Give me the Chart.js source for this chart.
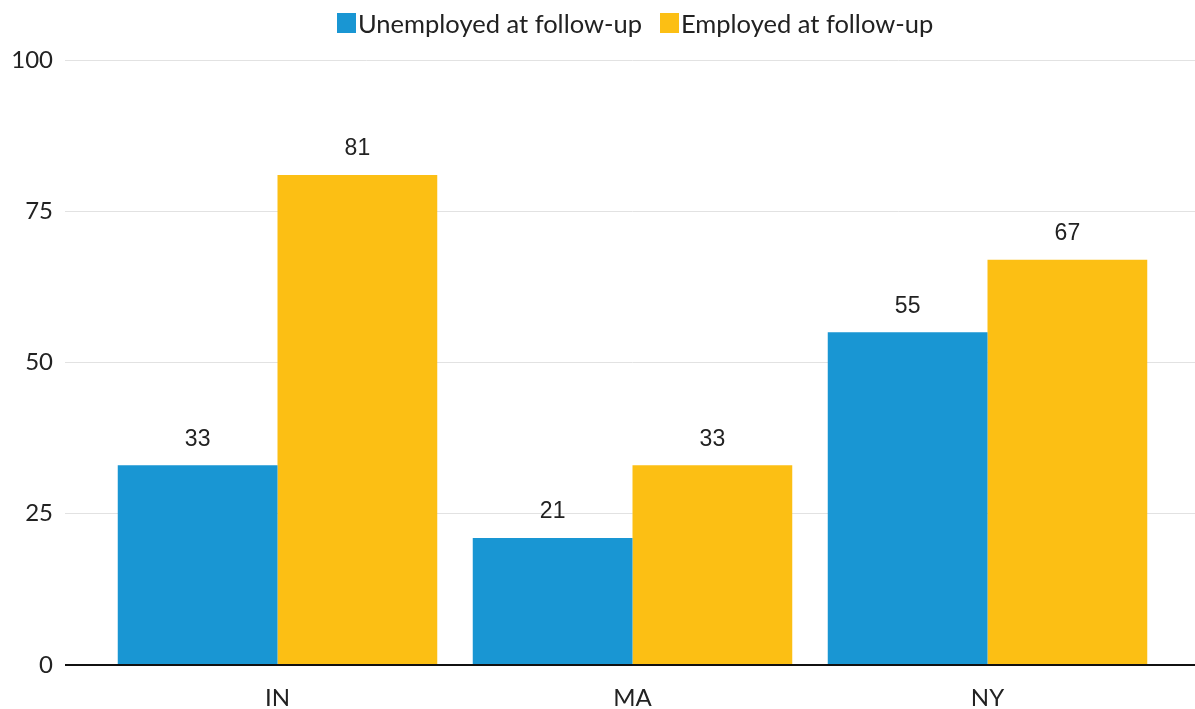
<!DOCTYPE html>
<html>
<head>
<meta charset="utf-8">
<script src="https://cdn.jsdelivr.net/npm/chart.js@4"></script>
<style>
  html, body { margin: 0; padding: 0; background: #fff; }
  #wrap { position: relative; width: 1195px; height: 709px; }
  #legend {
    position: absolute; top: 8px; left: 337px;
    display: flex; gap: 18px; white-space: nowrap;
    font-family: Lato, sans-serif; font-size: 25.5px; color: #222;
  }
  .item { display: flex; align-items: center; }
  .swatch { width: 19px; height: 20px; margin-right: 2px; }
</style>
</head>
<body>
<div id="wrap">
  <canvas id="grafico" width="1195" height="709"></canvas>
  <div id="legend"></div>
</div>
<script>
var estados = ["IN", "MA", "NY"];
var desempregados = [33, 21, 55];
var empregados = [81, 33, 67];
var seriesNomes = ["Unemployed at follow-up", "Employed at follow-up"];
var cores = ["#1996d3", "#fcbf14"];
var ticksY = [0, 25, 50, 75, 100];

// legenda em HTML
var legenda = document.getElementById("legend");
seriesNomes.forEach(function (nome, i) {
    var item = document.createElement("div");
    item.className = "item";
    var sw = document.createElement("span");
    sw.className = "swatch";
    sw.style.background = cores[i];
    var txt = document.createElement("span");
    txt.textContent = nome;
    item.appendChild(sw);
    item.appendChild(txt);
    legenda.appendChild(item);
});

// rótulos com o valor acima de cada barra
var rotulos = {
    id: "rotulos",
    afterDatasetsDraw: function (chart) {
        var ctx = chart.ctx;
        ctx.save();
        ctx.font = "23px 'Liberation Sans', Arial, sans-serif";
        ctx.fillStyle = "#222";
        ctx.textAlign = "center";
        ctx.textBaseline = "middle";
        chart.data.datasets.forEach(function (ds, i) {
            chart.getDatasetMeta(i).data.forEach(function (bar, j) {
                ctx.fillText(ds.data[j], bar.x, bar.y - 26);
            });
        });
        ctx.restore();
    }
};

var corGrade = function (c) {
    return c.tick && c.tick.value === 0 ? "#111" : "#e2e2e2";
};
var larguraGrade = function (c) {
    return c.tick && c.tick.value === 0 ? 2 : 1;
};

new Chart(document.getElementById("grafico").getContext("2d"), {
    type: "bar",
    data: {
        labels: estados,
        datasets: [{
            label: seriesNomes[0],
            data: desempregados,
            backgroundColor: cores[0]
        }, {
            label: seriesNomes[1],
            data: empregados,
            backgroundColor: cores[1]
        }]
    },
    options: {
        responsive: false,
        animation: false,
        layout: { padding: { top: 60, bottom: 0, left: 0, right: 0 } },
        datasets: { bar: { categoryPercentage: 0.9, barPercentage: 1.0 } },
        plugins: { legend: { display: false }, tooltip: { enabled: false } },
        scales: {
            x: {
                grid: { display: false },
                border: { display: false },
                ticks: {
                    padding: 11,
                    color: "#222",
                    font: { family: "Lato", size: 24 }
                },
                afterFit: function (s) { s.height = 44; }
            },
            y: {
                min: 0,
                max: 100,
                afterBuildTicks: function (s) {
                    s.ticks = ticksY.map(function (v) { return { value: v }; });
                },
                border: { display: false },
                grid: {
                    color: corGrade,
                    tickColor: corGrade,
                    lineWidth: larguraGrade,
                    tickLength: 35
                },
                ticks: {
                    padding: 12,
                    color: "#222",
                    font: { family: "Lato", size: 24 }
                },
                afterFit: function (s) { s.width = 100; }
            },
            yDir: {
                position: "right",
                min: 0,
                max: 100,
                afterBuildTicks: function (s) {
                    s.ticks = ticksY.map(function (v) { return { value: v }; });
                },
                border: { display: false },
                grid: {
                    drawOnChartArea: false,
                    tickColor: corGrade,
                    lineWidth: larguraGrade,
                    tickLength: 30
                },
                ticks: { display: false },
                afterFit: function (s) { s.width = 30; }
            }
        }
    },
    plugins: [rotulos]
});
</script>
</body>
</html>
